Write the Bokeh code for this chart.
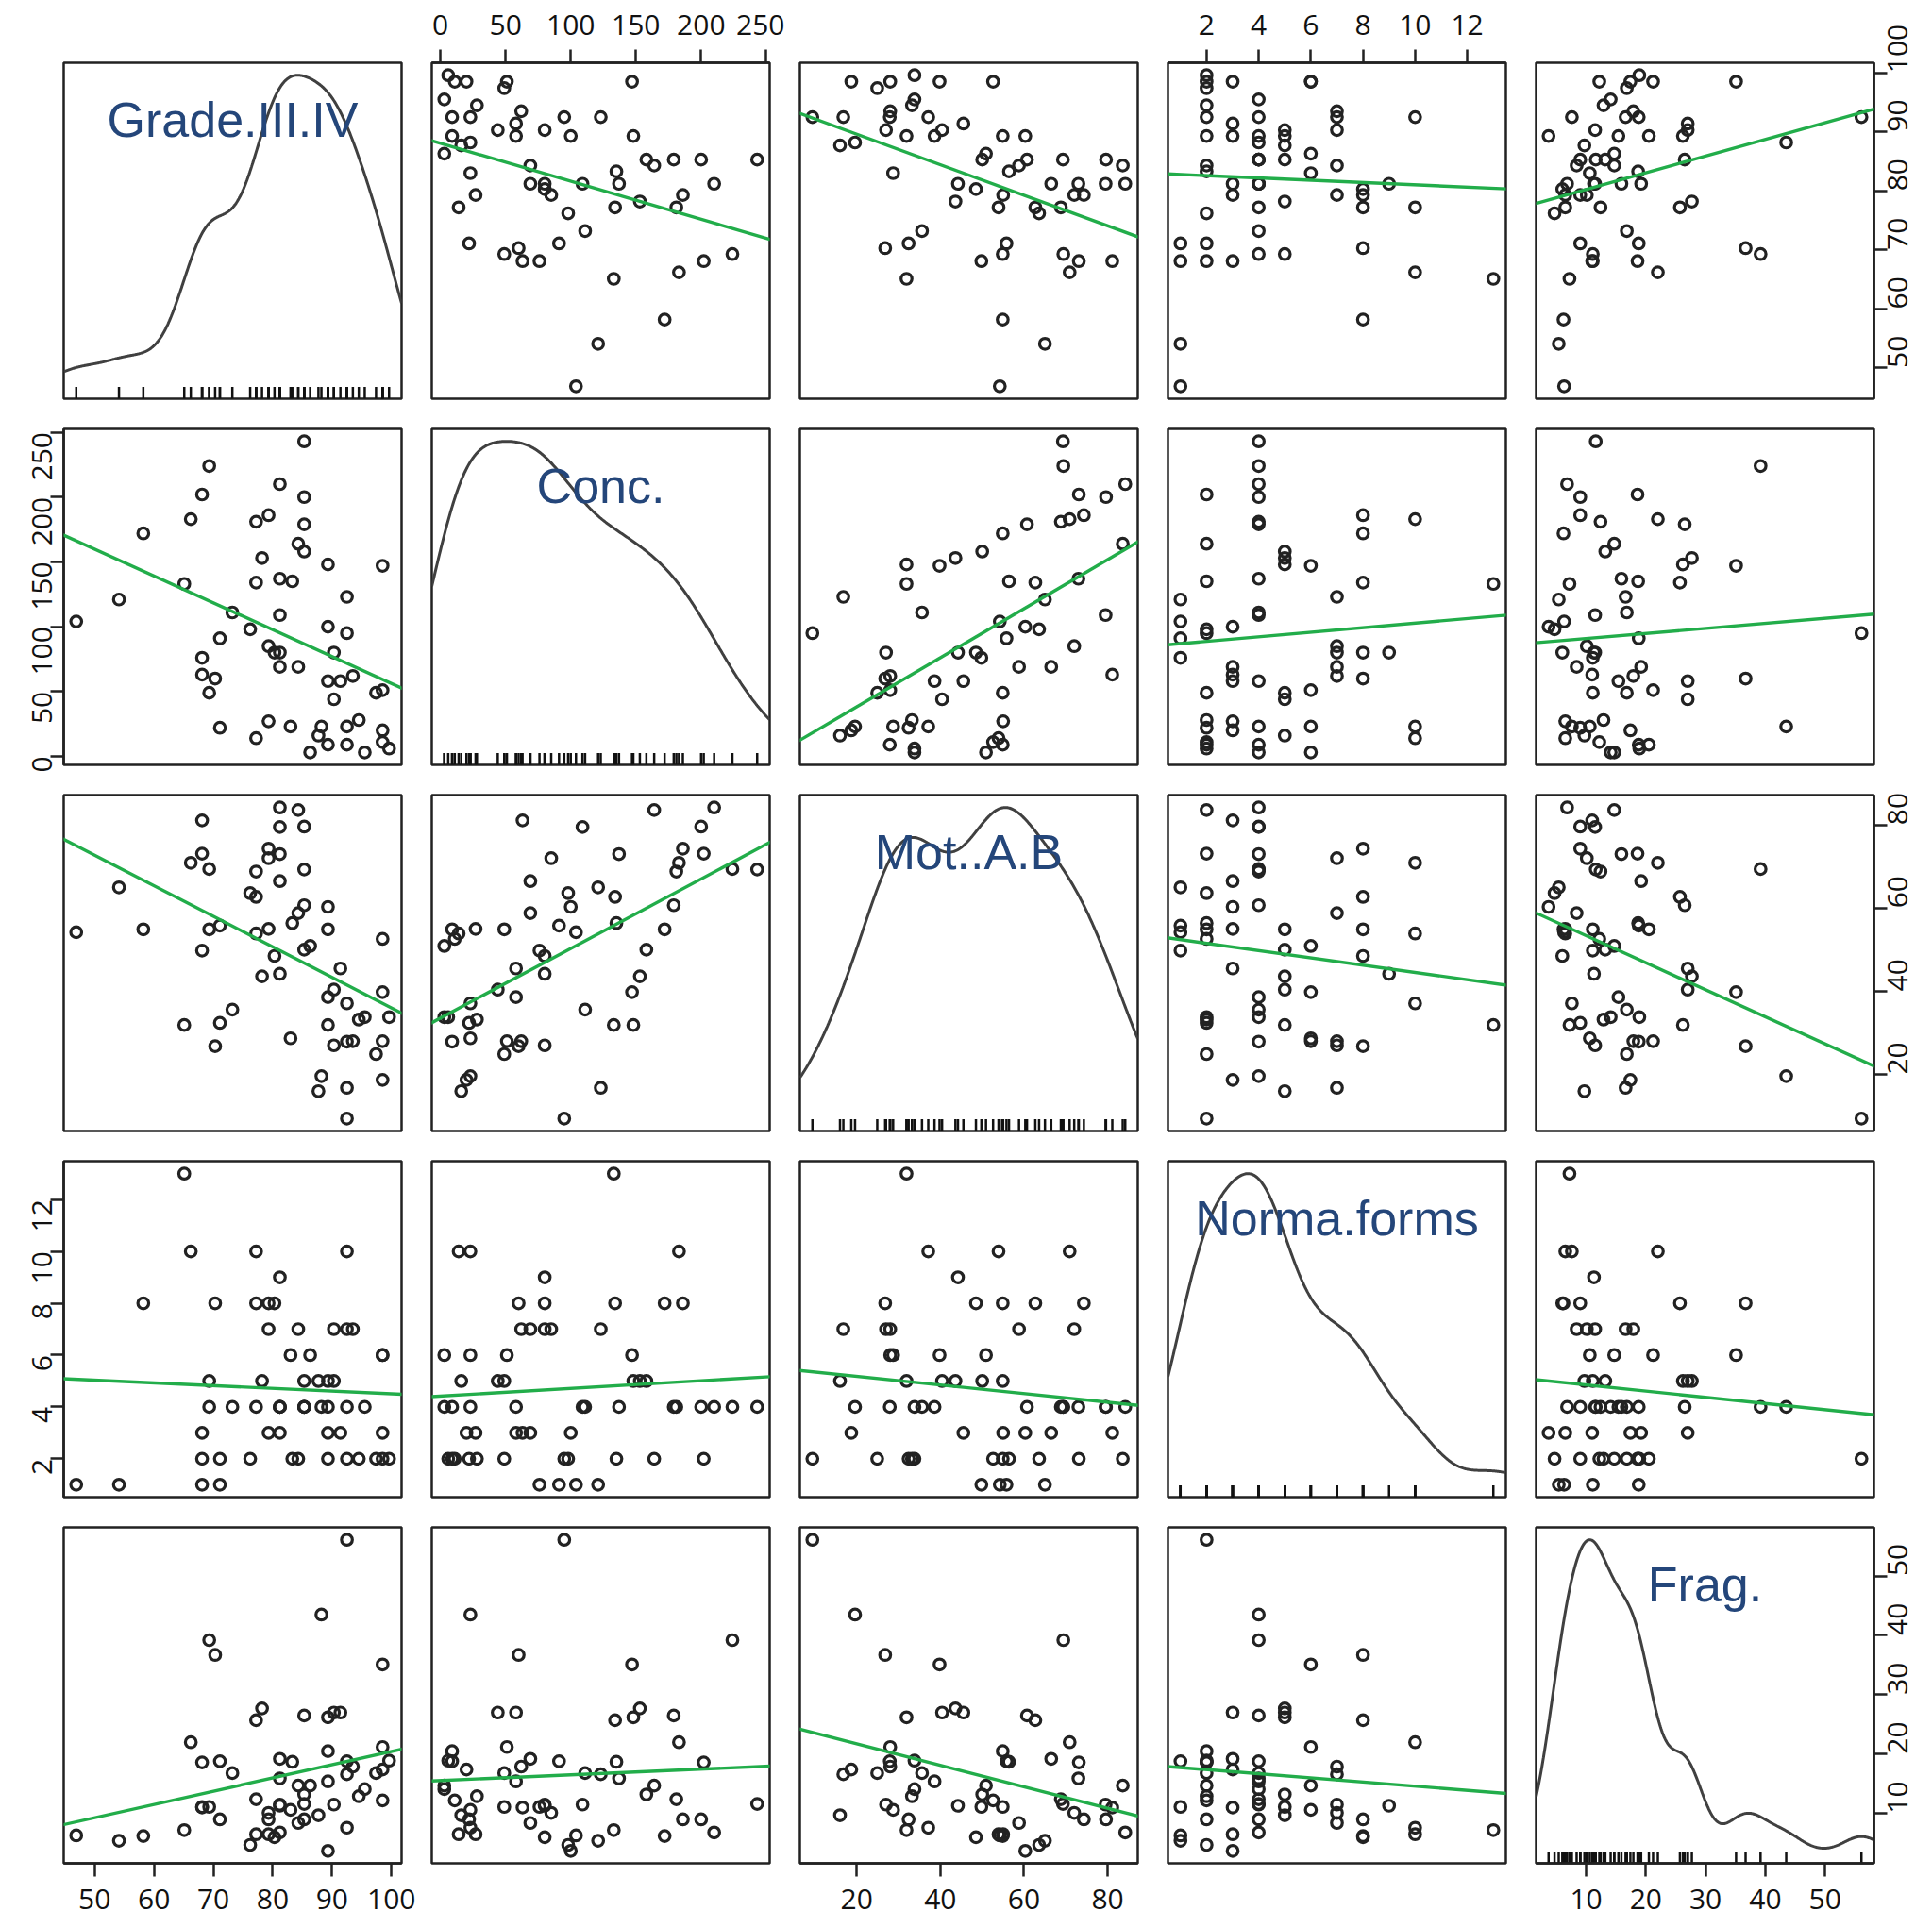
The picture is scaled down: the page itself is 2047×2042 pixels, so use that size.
import math
import numpy as np
from bokeh.plotting import figure
from bokeh.layouts import gridplot
from bokeh.models import Range1d, LinearAxis, FixedTicker, Slope, Label, Grid
from bokeh.embed import file_html
from bokeh.resources import INLINE

names = ["Grade.III.IV", "Conc.", "Mot..A.B", "Norma.forms", "Frag."]

grade = [46.9, 54.1, 58.2, 65.1, 66.2, 68.1, 68.1, 68.1, 69.3, 69.3,
         70.3, 71.1, 71.1, 73.2, 76.2, 77.2, 77.2, 77.2, 78.2, 79.3,
         79.3, 79.3, 80.3, 81.2, 81.2, 81.2, 81.2, 81.2, 83.3, 83.0,
         84.3, 84.3, 85.3, 85.3, 85.3, 85.3, 86.3, 87.7, 88.2, 89.3,
         89.3, 89.3, 89.3, 90.3, 90.3, 91.4, 92.5, 92.5, 92.5, 92.5,
         93.5, 94.5, 95.5, 97.4, 98.5, 98.5, 98.5, 98.5, 99.6]
conc = [104, 121, 172, 133, 183, 202, 76, 63, 224, 49,
        60, 91, 22, 111, 98, 181, 134, 14, 153, 186,
        85, 27, 80, 210, 137, 109, 80, 69, 135, 23,
        164, 69, 243, 200, 179, 158, 3, 16, 23, 148,
        100, 58, 9, 80, 44, 58, 123, 95, 23, 9,
        62, 28, 3, 49, 147, 51, 20, 11, 6]
mot = [54.2, 65.0, 54.9, 31.9, 70.9, 73.1, 49.8, 81.1, 69.4, 54.9,
       26.8, 55.8, 32.4, 35.6, 63.6, 68.8, 62.7, 53.9, 43.6, 74.3,
       72.0, 55.0, 48.5, 84.2, 73.0, 79.5, 44.2, 66.5, 56.4, 28.7,
       83.6, 58.8, 69.3, 79.6, 60.7, 50.0, 50.9, 16.0, 19.6, 31.9,
       60.3, 38.6, 54.9, 27.0, 40.4, 45.5, 16.8, 9.4, 37.1, 27.9,
       28.0, 33.2, 33.8, 24.9, 39.8, 28.0, 18.7, 52.6, 33.8]
norma = [1, 1, 8, 13, 10, 2, 1, 3, 4, 5,
         8, 1, 2, 4, 2, 4, 8, 10, 5, 8,
         7, 3, 8, 4, 4, 4, 9, 3, 2, 6,
         2, 7, 4, 4, 4, 5, 6, 5, 4, 5,
         3, 4, 2, 7, 5, 3, 7, 2, 10, 4,
         7, 2, 4, 2, 6, 6, 3, 2, 2]
frag = [6.3, 5.4, 6.2, 7.2, 22.0, 18.6, 11.1, 11.0, 39.2, 11.1,
        36.7, 18.8, 9.0, 16.8, 4.7, 12.4, 25.7, 6.5, 27.7, 9.0,
        10.1, 6.5, 6.0, 6.8, 15.9, 11.5, 11.3, 19.2, 18.7, 10.6,
        14.7, 8.4, 11.6, 9.0, 26.5, 13.2, 14.7, 9.7, 43.5, 26.2,
        3.7, 15.4, 20.5, 11.5, 27.0, 27.0, 16.6, 56.1, 7.6, 18.8,
        17.9, 12.9, 14.1, 16.8, 35.1, 21.2, 17.4, 12.2, 18.9]

tick_values = [
    [50, 60, 70, 80, 90, 100],
    [0, 50, 100, 150, 200, 250],
    [20, 40, 60, 80],
    [2, 4, 6, 8, 10, 12],
    [10, 20, 30, 40, 50],
]

data = [np.array(v, dtype=float) for v in (grade, conc, mot, norma, frag)]
NV = 5

FW, FH = 358, 356
LB = [67, 16, 16, 16, 16]
RB = [16, 16, 16, 16, 60]
TB = [66, 16, 16, 16, 16]
BB = [16, 16, 16, 16, 63]

BOX = "#222222"
GREEN = "#22ad4a"
LABEL_BLUE = "#24467a"
TICK_FONT = "Open Sans"
TICK_SIZE = "30px"


def pad_range(v):
    lo, hi = float(v.min()), float(v.max())
    r = hi - lo
    return lo - 0.04 * r, hi + 0.04 * r


def bw_nrd0(v):
    sd = np.std(v, ddof=1)
    q75, q25 = np.percentile(v, [75, 25])
    lo = min(sd, (q75 - q25) / 1.34)
    return 0.9 * lo * len(v) ** (-0.2)


def make_axis(var, standoff, orient=None, y_range_name=None):
    kw = {}
    if y_range_name is not None:
        kw["y_range_name"] = y_range_name
    ax = LinearAxis(ticker=FixedTicker(ticks=tick_values[var]), **kw)
    ax.major_tick_out = 14
    ax.major_tick_in = 0
    ax.minor_tick_out = 0
    ax.minor_tick_in = 0
    ax.major_tick_line_width = 2.5
    ax.major_tick_line_color = BOX
    ax.axis_line_color = BOX
    ax.axis_line_width = 2.5
    ax.major_label_text_font = TICK_FONT
    ax.major_label_text_font_size = TICK_SIZE
    ax.major_label_text_color = "#111111"
    ax.major_label_standoff = standoff
    if orient is not None:
        ax.major_label_orientation = orient
    return ax


rows = []
for r in range(NV):
    row = []
    for c in range(NV):
        xr = pad_range(data[c])
        if r == c:
            v = data[c]
            bw = bw_nrd0(v)
            xs = np.linspace(xr[0], xr[1], 512)
            dens = np.exp(-0.5 * ((xs[:, None] - v[None, :]) / bw) ** 2).sum(axis=1)
            dens = dens / (len(v) * bw * math.sqrt(2 * math.pi))
            dmax = float(dens.max())
            yr = (-0.04 * dmax, 1.04 * dmax)
        else:
            yr = pad_range(data[r])
        p = figure(frame_width=FW, frame_height=FH,
                   min_border_left=LB[c], min_border_right=RB[c],
                   min_border_top=TB[r], min_border_bottom=BB[r],
                   x_range=Range1d(*xr), y_range=Range1d(*yr),
                   x_axis_location=None, y_axis_location=None,
                   toolbar_location=None, output_backend="svg",
                   outline_line_color=BOX, outline_line_width=2.5,
                   background_fill_color="white", border_fill_color="white")
        for g in p.select(type=Grid):
            g.visible = False

        if r == c:
            p.line(xs, dens, line_color="#404040", line_width=3)
            h = 0.035 * (yr[1] - yr[0])
            p.segment(x0=data[c], y0=[yr[0]] * len(data[c]), x1=data[c],
                      y1=[yr[0] + h] * len(data[c]),
                      line_color="#111111", line_width=2.5)
            ylab = yr[1] - (60.0 / FH) * (yr[1] - yr[0])
            p.add_layout(Label(x=(xr[0] + xr[1]) / 2, y=ylab, text=names[c],
                               text_align="center", text_baseline="middle",
                               text_font="Liberation Sans", text_font_size="52px",
                               text_color=LABEL_BLUE))
        else:
            x = data[c]
            y = data[r]
            b, a = np.polyfit(x, y, 1)
            p.add_layout(Slope(gradient=float(b), y_intercept=float(a),
                               line_color=GREEN, line_width=3.4))
            p.scatter(x, y, marker="circle", size=11.5, fill_color=None,
                      line_color="#222222", line_width=3.2)

        # outer axes as in R pairs()
        if r == 0 and c in (1, 3):
            p.add_layout(make_axis(c, 16), "above")
        if r == NV - 1 and c in (0, 2, 4):
            p.add_layout(make_axis(c, 13), "below")
        if c == 0 and r in (1, 3):
            p.add_layout(make_axis(r, 9, orient=math.pi / 2), "left")
        if c == NV - 1 and r in (0, 2, 4):
            if r == c:
                p.extra_y_ranges = {"var": Range1d(*pad_range(data[r]))}
                p.add_layout(make_axis(r, 11, orient=math.pi / 2, y_range_name="var"), "right")
            else:
                p.add_layout(make_axis(r, 11, orient=math.pi / 2), "right")
        row.append(p)
    rows.append(row)

grid = gridplot(rows, toolbar_location=None)

open("out.html", "w").write(file_html(grid, INLINE))
